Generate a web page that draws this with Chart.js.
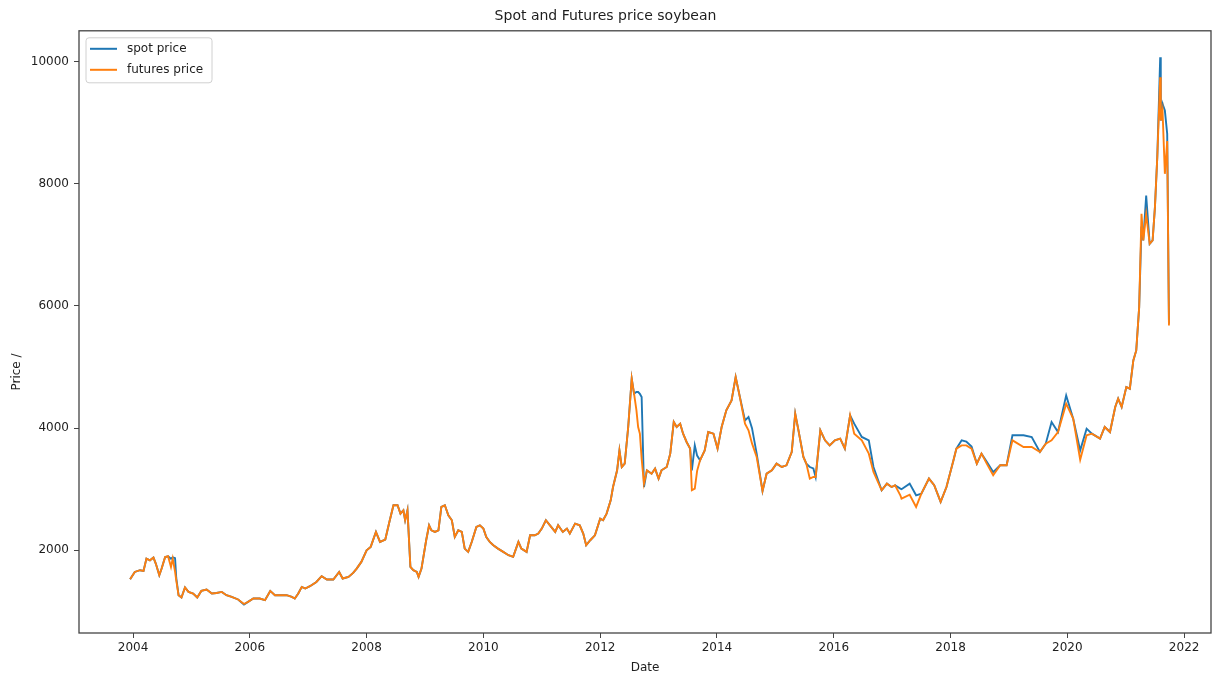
<!DOCTYPE html>
<html>
<head>
<meta charset="utf-8">
<script src="https://cdn.jsdelivr.net/npm/chart.js@4/dist/chart.umd.min.js"></script>
<style>
html,body{margin:0;padding:0;background:#fff;}
#wrap{width:1216px;height:676px;}
</style>
</head>
<body>
<div id="wrap"><canvas id="c" width="1216" height="676"></canvas></div>
<script>
const chartTitle = "Spot and Futures price soybean";
const xAxisTitle = "Date";
const yAxisTitle = "Price /";
const seriesNames = ["spot price", "futures price"];

const dates = [
2003.95,2004.03,2004.12,2004.18,2004.23,2004.29,2004.35,2004.39,2004.45,2004.49,
2004.55,2004.60,2004.65,2004.68,2004.72,2004.74,2004.78,2004.83,2004.89,2004.95,
2005.03,2005.10,2005.17,2005.26,2005.35,2005.43,2005.52,2005.60,2005.69,2005.80,
2005.90,2005.97,2006.06,2006.17,2006.26,2006.35,2006.43,2006.52,2006.63,2006.72,
2006.77,2006.83,2006.89,2006.95,2007.03,2007.14,2007.23,2007.32,2007.43,2007.53,
2007.59,2007.69,2007.77,2007.83,2007.91,2008.00,2008.07,2008.16,2008.23,2008.32,
2008.39,2008.46,2008.53,2008.58,2008.63,2008.66,2008.70,2008.75,2008.80,2008.86,
2008.89,2008.94,2009.02,2009.07,2009.11,2009.17,2009.23,2009.28,2009.34,2009.40,
2009.46,2009.51,2009.57,2009.63,2009.68,2009.74,2009.80,2009.88,2009.94,2010.00,
2010.05,2010.11,2010.17,2010.25,2010.34,2010.43,2010.51,2010.60,2010.65,2010.74,
2010.80,2010.88,2010.94,2011.00,2011.07,2011.14,2011.23,2011.28,2011.36,2011.43,
2011.48,2011.57,2011.65,2011.71,2011.76,2011.83,2011.91,2012.00,2012.05,2012.11,
2012.18,2012.22,2012.29,2012.33,2012.37,2012.42,2012.48,2012.54,2012.58,2012.62,
2012.65,2012.68,2012.71,2012.75,2012.80,2012.88,2012.94,2013.00,2013.05,2013.14,
2013.20,2013.26,2013.31,2013.37,2013.42,2013.48,2013.54,2013.57,2013.62,2013.66,
2013.71,2013.79,2013.85,2013.94,2014.01,2014.08,2014.16,2014.25,2014.32,2014.38,
2014.48,2014.54,2014.60,2014.68,2014.78,2014.85,2014.94,2015.02,2015.11,2015.19,
2015.28,2015.34,2015.39,2015.48,2015.53,2015.59,2015.65,2015.69,2015.77,2015.85,
2015.93,2016.02,2016.11,2016.19,2016.28,2016.35,2016.48,2016.60,2016.68,2016.82,
2016.91,2016.99,2017.05,2017.14,2017.16,2017.30,2017.41,2017.50,2017.63,2017.72,
2017.83,2017.93,2018.05,2018.10,2018.19,2018.27,2018.36,2018.45,2018.53,2018.62,
2018.73,2018.85,2018.96,2019.06,2019.25,2019.39,2019.53,2019.63,2019.73,2019.84,
2019.98,2020.10,2020.22,2020.33,2020.42,2020.56,2020.64,2020.73,2020.82,2020.87,
2020.93,2021.01,2021.07,2021.13,2021.18,2021.23,2021.27,2021.30,2021.35,2021.41,
2021.46,2021.50,2021.54,2021.59,2021.60,2021.63,2021.67,2021.71,2021.74
];

const spotPrice = [
1526,1645,1673,1661,1864,1836,1880,1782,1591,1700,
1890,1902,1860,1885,1870,1550,1264,1226,1390,1318,
1291,1226,1334,1357,1291,1301,1318,1264,1236,1194,
1112,1154,1210,1210,1182,1334,1264,1264,1264,1236,
1210,1291,1400,1373,1411,1481,1575,1520,1520,1645,
1537,1564,1630,1700,1809,2000,2055,2300,2136,2175,
2463,2736,2736,2600,2654,2491,2654,1727,1673,1645,
1564,1700,2164,2409,2327,2300,2327,2709,2736,2573,
2491,2218,2327,2300,2027,1973,2136,2382,2409,2355,
2218,2136,2082,2027,1973,1918,1891,2136,2027,1973,
2245,2245,2273,2355,2491,2409,2300,2409,2300,2355,
2273,2436,2409,2273,2082,2164,2245,2518,2491,2600,
2818,3036,3309,3636,3363,3418,4018,4809,4564,4591,
4591,4560,4509,3036,3309,3254,3336,3173,3309,3363,
3582,4100,4018,4073,3909,3773,3664,3309,3718,3550,
3473,3636,3936,3909,3664,4018,4291,4455,4836,4564,
4127,4182,4000,3582,2970,3254,3309,3418,3363,3391,
3609,4236,3991,3527,3418,3363,3340,3200,3964,3800,
3718,3800,3827,3664,4209,4073,3855,3800,3363,2982,
3091,3036,3064,3009,3000,3091,2900,2927,3173,3064,
2791,3036,3473,3664,3800,3780,3700,3418,3582,3450,
3280,3391,3391,3882,3882,3855,3609,3745,4100,3936,
4536,4155,3636,3991,3909,3827,4018,3936,4345,4482,
4345,4673,4645,5109,5272,5981,7300,7073,7809,7018,
7073,7618,8436,10072,9036,9309,9200,8818,5709
];

const futuresPrice = [
1526,1645,1673,1661,1864,1836,1880,1782,1591,1700,
1890,1902,1727,1864,1650,1509,1264,1226,1390,1318,
1291,1226,1334,1357,1291,1301,1318,1264,1236,1194,
1120,1154,1210,1210,1182,1334,1264,1264,1264,1236,
1210,1291,1400,1373,1411,1481,1575,1520,1520,1645,
1537,1564,1630,1700,1809,2000,2055,2300,2136,2175,
2463,2736,2736,2600,2654,2491,2654,1727,1673,1645,
1564,1700,2164,2409,2327,2300,2327,2709,2736,2573,
2491,2218,2327,2300,2027,1973,2136,2382,2409,2355,
2218,2136,2082,2027,1973,1918,1891,2136,2027,1973,
2245,2245,2273,2355,2491,2409,2300,2409,2300,2355,
2273,2436,2409,2273,2082,2164,2245,2518,2491,2600,
2818,3036,3309,3636,3363,3418,4018,4809,4564,4300,
4018,3909,3500,3090,3309,3254,3336,3173,3309,3363,
3582,4100,4018,4073,3909,3773,3664,2982,3009,3300,
3473,3636,3936,3909,3664,4018,4291,4455,4836,4564,
4073,3964,3750,3527,2970,3254,3309,3418,3363,3391,
3609,4236,3991,3527,3418,3173,3200,3200,3964,3800,
3718,3800,3827,3664,4209,3909,3800,3582,3282,2982,
3091,3036,3064,2900,2845,2909,2709,2927,3173,3064,
2791,3036,3473,3664,3718,3718,3664,3418,3582,3418,
3227,3391,3391,3800,3691,3691,3609,3745,3800,3936,
4400,4155,3482,3882,3909,3827,4018,3936,4345,4482,
4345,4673,4645,5109,5272,5981,7509,7073,7500,7018,
7073,7618,8436,9745,9036,9200,8164,8700,5682
];

const xTickValues = [2004,2006,2008,2010,2012,2014,2016,2018,2020,2022];
const xTickLabels = ["2004","2006","2008","2010","2012","2014","2016","2018","2020","2022"];
const yTickValues = [2000,4000,6000,8000,10000];
const yTickLabels = ["2000","4000","6000","8000","10000"];

const FONT = "'DejaVu Sans', sans-serif";
const TEXT = "#1e1e1e";
const AXIS = "#444";

const toPoints = vals => dates.map((d, i) => ({x: d, y: vals[i]}));

const framePlugin = {
  id: 'frame',
  afterDraw(chart) {
    const {ctx, chartArea: a} = chart;
    ctx.save();
    ctx.strokeStyle = AXIS;
    ctx.lineWidth = 1.3;
    ctx.strokeRect(a.left, a.top, a.right - a.left, a.bottom - a.top);
    ctx.restore();
  }
};

const legendPlugin = {
  id: 'insideLegend',
  afterDatasetsDraw(chart) {
    const {ctx, chartArea: a} = chart;
    const x0 = a.left + 7, y0 = a.top + 7, w = 126, h = 45;
    ctx.save();
    ctx.beginPath();
    if (ctx.roundRect) ctx.roundRect(x0, y0, w, h, 3); else ctx.rect(x0, y0, w, h);
    ctx.fillStyle = "rgba(255,255,255,0.85)";
    ctx.fill();
    ctx.strokeStyle = "#d0d0d0";
    ctx.lineWidth = 1;
    ctx.stroke();
    ctx.font = "12px " + FONT;
    ctx.textBaseline = "middle";
    chart.data.datasets.forEach((ds, i) => {
      const yy = y0 + 11 + i * 21;
      ctx.strokeStyle = ds.borderColor;
      ctx.lineWidth = 2;
      ctx.beginPath();
      ctx.moveTo(x0 + 4, yy);
      ctx.lineTo(x0 + 31, yy);
      ctx.stroke();
      ctx.fillStyle = TEXT;
      ctx.fillText(ds.label, x0 + 41, yy);
    });
    ctx.restore();
  }
};

new Chart(document.getElementById('c'), {
  type: 'line',
  data: {
    datasets: [
      {label: seriesNames[0], data: toPoints(spotPrice), borderColor: '#1f77b4', backgroundColor: '#1f77b4',
       borderWidth: 1.9, pointRadius: 0, tension: 0, fill: false, order: 1},
      {label: seriesNames[1], data: toPoints(futuresPrice), borderColor: '#ff7f0e', backgroundColor: '#ff7f0e',
       borderWidth: 1.9, pointRadius: 0, tension: 0, fill: false, order: 0}
    ]
  },
  options: {
    responsive: false,
    animation: false,
    devicePixelRatio: 1,
    layout: {padding: {left: 0, right: 5, top: 0, bottom: 0}},
    plugins: {
      legend: {display: false},
      tooltip: {enabled: false},
      title: {display: true, text: chartTitle, color: TEXT,
              font: {family: FONT, size: 14, weight: 'normal'}, padding: {top: 8, bottom: 6}}
    },
    scales: {
      x: {
        type: 'linear', min: 2003.075, max: 2022.46,
        afterBuildTicks: s => { s.ticks = xTickValues.map(v => ({value: v})); },
        afterFit: s => { s.height = 43; },
        grid: {drawOnChartArea: false, drawTicks: true, tickLength: 5, color: AXIS},
        border: {display: false},
        ticks: {color: TEXT, font: {family: FONT, size: 12}, padding: 3, maxRotation: 0,
                callback: v => xTickLabels[xTickValues.indexOf(v)]},
        title: {display: true, text: xAxisTitle, color: TEXT, font: {family: FONT, size: 12},
                padding: {top: 0, bottom: 1}}
      },
      y: {
        type: 'linear', min: 645, max: 10506,
        afterBuildTicks: s => { s.ticks = yTickValues.map(v => ({value: v})); },
        afterFit: s => { s.width = 79; },
        grid: {drawOnChartArea: false, drawTicks: true, tickLength: 5, color: AXIS},
        border: {display: false},
        ticks: {color: TEXT, font: {family: FONT, size: 12}, padding: 5,
                callback: v => yTickLabels[yTickValues.indexOf(v)]},
        title: {display: true, text: yAxisTitle + "                     ", color: TEXT,
                font: {family: FONT, size: 12}, padding: {top: 10, bottom: 0}}
      }
    }
  },
  plugins: [framePlugin, legendPlugin]
});
</script>
</body>
</html>
